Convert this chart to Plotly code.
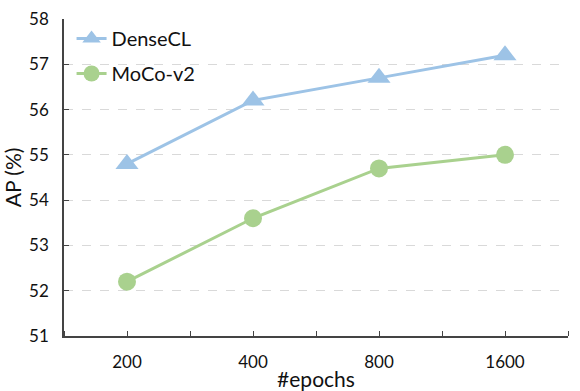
import plotly.graph_objects as go

epochs = ["200", "400", "800", "1600"]
densecl = [54.8, 56.2, 56.7, 57.2]
mocov2 = [52.2, 53.6, 54.7, 55.0]
yticks = [51, 52, 53, 54, 55, 56, 57, 58]

xpos = list(range(len(epochs)))
font = "Lato, Carlito, 'Open Sans', sans-serif"

fig = go.Figure()
fig.add_trace(go.Scatter(x=xpos, y=densecl, name="DenseCL", mode="lines+markers",
                         legendgroup="a",
                         line=dict(color="#9DC3E6", width=3),
                         marker=dict(symbol="triangle-up", size=20, color="#9DC3E6")))
fig.add_trace(go.Scatter(x=xpos, y=mocov2, name="MoCo-v2", mode="lines+markers",
                         legendgroup="b",
                         line=dict(color="#A9D18E", width=3),
                         marker=dict(symbol="circle", size=18, color="#A9D18E")))

half_ticks = [i * 0.5 - 0.5 for i in range(2 * len(epochs) + 1)]
fig.update_layout(
    width=580, height=391,
    margin=dict(l=64, r=12, t=19, b=55),
    paper_bgcolor="white", plot_bgcolor="white",
    font=dict(family=font, size=17, color="#111"),
    showlegend=True,
    legend=dict(x=0.015, y=1.0, xanchor="left", yanchor="top",
                font=dict(size=20, color="#111"), bgcolor="rgba(0,0,0,0)",
                tracegroupgap=6),
    xaxis=dict(range=[-0.5, len(epochs) - 0.5], tickvals=xpos, ticktext=epochs,
               showgrid=False, zeroline=False, showline=True, linecolor="#444", linewidth=1.5,
               ticks="", tickfont=dict(size=17), ticklabelstandoff=10, automargin=False,
               minor=dict(tickvals=half_ticks, ticks="inside", ticklen=5, tickcolor="#444", showgrid=False),
               title=dict(text="#epochs", font=dict(size=21), standoff=2)),
    yaxis=dict(range=[51, 58], tickvals=yticks, showgrid=True, gridcolor="#D9D9D9",
               griddash="dash", gridwidth=1, zeroline=False, showline=True, automargin=False,
               linecolor="#444", linewidth=1.5, ticks="inside", ticklen=5, tickcolor="#444",
               tickfont=dict(size=17), ticklabelstandoff=10,
               title=dict(text="AP (%)", font=dict(size=21), standoff=6)),
)
fig.write_html("out.html", config={"displayModeBar": False},
               post_script="document.body.style.margin='0';document.body.style.overflow='hidden';")
